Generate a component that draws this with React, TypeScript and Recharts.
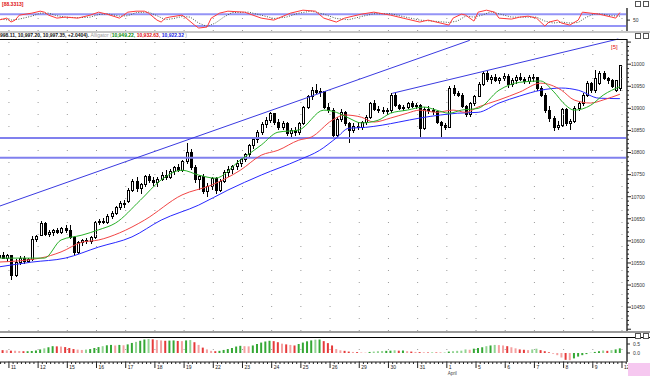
import React from 'react';
import { ComposedChart, Bar, Line, XAxis, YAxis, ReferenceLine, Cell } from 'recharts';

// DJIA hourly bars, 10 Mar - 9 Apr 2010: [open, high, low, close]
const candles: number[][] = [
  [10562, 10572, 10555, 10568], [10568, 10575, 10558, 10560], [10560, 10570, 10552, 10567],
  // Mar 11
  [10566, 10568, 10511, 10522], [10522, 10560, 10518, 10552], [10552, 10566, 10545, 10560], [10560, 10565, 10548, 10553],
  [10553, 10562, 10550, 10558], [10558, 10610, 10555, 10602], [10602, 10614, 10598, 10611],
  // Mar 12
  [10612, 10646, 10610, 10640], [10640, 10643, 10612, 10615], [10615, 10625, 10608, 10618], [10618, 10628, 10612, 10624],
  [10624, 10630, 10615, 10620], [10620, 10632, 10616, 10628], [10628, 10635, 10618, 10624],
  // Mar 15
  [10624, 10636, 10605, 10608], [10608, 10612, 10568, 10574], [10574, 10600, 10570, 10596], [10596, 10604, 10588, 10600],
  [10600, 10606, 10592, 10598], [10598, 10612, 10594, 10608], [10608, 10645, 10605, 10642],
  // Mar 16
  [10642, 10650, 10635, 10645], [10645, 10652, 10638, 10641], [10641, 10660, 10638, 10656], [10656, 10668, 10650, 10662],
  [10662, 10680, 10658, 10676], [10676, 10690, 10670, 10684], [10684, 10692, 10675, 10685],
  // Mar 17
  [10690, 10720, 10685, 10715], [10715, 10740, 10710, 10735], [10735, 10745, 10710, 10718], [10718, 10732, 10705, 10728],
  [10728, 10750, 10722, 10745], [10745, 10752, 10730, 10736], [10736, 10745, 10725, 10733],
  // Mar 18
  [10733, 10745, 10722, 10740], [10740, 10755, 10735, 10748], [10748, 10760, 10738, 10744], [10744, 10762, 10740, 10758],
  [10758, 10770, 10750, 10765], [10765, 10775, 10755, 10760], [10760, 10782, 10756, 10779],
  // Mar 19
  [10779, 10821, 10775, 10800], [10800, 10808, 10760, 10765], [10765, 10772, 10730, 10738], [10738, 10750, 10715, 10745],
  [10745, 10752, 10705, 10712], [10712, 10730, 10700, 10722], [10722, 10745, 10715, 10741],
  // Mar 22
  [10741, 10745, 10705, 10715], [10715, 10740, 10710, 10735], [10735, 10760, 10730, 10755], [10755, 10770, 10745, 10762],
  [10762, 10772, 10752, 10768], [10768, 10782, 10760, 10775], [10775, 10790, 10768, 10785],
  // Mar 23
  [10785, 10800, 10778, 10795], [10795, 10820, 10790, 10815], [10815, 10835, 10808, 10830], [10830, 10850, 10822, 10845],
  [10845, 10870, 10840, 10864], [10864, 10880, 10855, 10872], [10872, 10892, 10866, 10888],
  // Mar 24
  [10888, 10890, 10862, 10868], [10868, 10875, 10850, 10856], [10856, 10872, 10850, 10866], [10866, 10870, 10838, 10842],
  [10842, 10855, 10835, 10850], [10850, 10858, 10838, 10845], [10845, 10870, 10840, 10866],
  // Mar 25
  [10866, 10905, 10862, 10902], [10902, 10930, 10898, 10926], [10926, 10948, 10920, 10940], [10940, 10955, 10932, 10935],
  [10935, 10946, 10925, 10938], [10938, 10940, 10898, 10902], [10902, 10912, 10890, 10896],
  // Mar 26
  [10896, 10900, 10832, 10838], [10838, 10880, 10835, 10875], [10875, 10898, 10870, 10891], [10891, 10895, 10860, 10865],
  [10865, 10870, 10821, 10851], [10851, 10866, 10845, 10860], [10860, 10868, 10850, 10857],
  // Mar 29
  [10857, 10872, 10850, 10868], [10868, 10885, 10862, 10880], [10880, 10915, 10876, 10912], [10912, 10918, 10895, 10898],
  [10898, 10905, 10890, 10895], [10895, 10902, 10888, 10892], [10892, 10900, 10886, 10895],
  // Mar 30
  [10895, 10935, 10890, 10930], [10930, 10936, 10902, 10906], [10906, 10910, 10896, 10900], [10900, 10908, 10895, 10902],
  [10902, 10915, 10898, 10911], [10911, 10916, 10900, 10904], [10904, 10912, 10898, 10907],
  // Mar 31
  [10907, 10910, 10835, 10855], [10855, 10902, 10850, 10898], [10898, 10905, 10888, 10895], [10895, 10900, 10885, 10893],
  [10893, 10896, 10865, 10868], [10868, 10872, 10835, 10862], [10862, 10866, 10852, 10857],
  // Apr 1
  [10857, 10950, 10855, 10945], [10945, 10952, 10928, 10934], [10934, 10940, 10925, 10930], [10930, 10935, 10900, 10904],
  [10904, 10908, 10880, 10885], [10885, 10915, 10880, 10910], [10910, 10930, 10905, 10927],
  // Apr 5
  [10927, 10960, 10925, 10955], [10955, 10985, 10950, 10978], [10978, 10985, 10960, 10965], [10965, 10975, 10955, 10970],
  [10970, 10978, 10960, 10962], [10962, 10972, 10955, 10968], [10968, 10980, 10962, 10973],
  // Apr 6
  [10973, 10978, 10945, 10955], [10955, 10968, 10948, 10962], [10962, 10975, 10955, 10970], [10970, 10980, 10962, 10966],
  [10966, 10972, 10955, 10960], [10960, 10975, 10955, 10970], [10970, 10978, 10960, 10969],
  // Apr 7
  [10969, 10972, 10940, 10945], [10945, 10950, 10925, 10930], [10930, 10935, 10890, 10895], [10895, 10905, 10870, 10878],
  [10878, 10882, 10848, 10856], [10856, 10872, 10850, 10862], [10862, 10900, 10858, 10897],
  // Apr 8
  [10897, 10900, 10860, 10866], [10866, 10875, 10852, 10870], [10870, 10905, 10866, 10900], [10900, 10915, 10895, 10910],
  [10910, 10935, 10905, 10930], [10930, 10962, 10925, 10957], [10957, 10960, 10935, 10940],
  // Apr 9
  [10941, 10986, 10935, 10968], [10957, 10985, 10952, 10980], [10980, 10985, 10965, 10968], [10968, 10972, 10955, 10962],
  [10962, 10966, 10945, 10950], [10941, 10965, 10938, 10962], [10946, 10998, 10940, 10997],
];

const dayLabels = ['11', '12', '15', '16', '17', '18', '19', '22', '23', '24', '25', '26', '29', '30', '31', '1', '5', '6', '7', '8', '9', '12'];
const monthLabels: Record<number, string> = { 15: 'April' };

// Alligator lines: [bar, price]
const jawPts = [
  [0, 10541], [8, 10552], [16, 10561], [24, 10586], [32, 10609], [39, 10647], [48, 10681], [55, 10715], [63, 10749],
  [72, 10783], [77, 10805], [81, 10833], [84, 10855], [88, 10857], [92, 10862], [96, 10869], [101, 10878], [106, 10885],
  [110, 10889], [115, 10891], [120, 10912], [125, 10928], [130, 10941], [135, 10946], [139, 10941], [144, 10923], [149, 10922],
];
const teethPts = [
  [0, 10552], [10, 10561], [15, 10575], [20, 10597], [24, 10602], [29, 10618], [35, 10647], [44, 10704], [51, 10726],
  [58, 10760], [63, 10794], [67, 10805], [72, 10828], [75, 10835], [80, 10873], [83, 10885], [87, 10880], [90, 10869],
  [94, 10878], [98, 10889], [101, 10896], [105, 10891], [109, 10896], [112, 10891], [115, 10903], [120, 10919],
  [125, 10937], [130, 10957], [135, 10941], [138, 10919], [142, 10912], [145, 10919], [149, 10932],
];
const lipsPts = [
  [0, 10561], [11, 10561], [15, 10602], [20, 10613], [24, 10625], [28, 10640], [34, 10692], [39, 10738], [44, 10760],
  [48, 10749], [52, 10742], [58, 10783], [63, 10817], [67, 10846], [72, 10851], [78, 10896], [81, 10891], [84, 10878],
  [87, 10867], [91, 10873], [94, 10889], [98, 10896], [102, 10903], [105, 10896], [108, 10889], [111, 10896],
  [115, 10900], [120, 10941], [125, 10959], [130, 10962], [133, 10939], [136, 10907], [138, 10896], [142, 10907],
  [145, 10930], [149, 10949],
];

// Stochastic %K and %D: [bar, value]
const stochK = [
  [0, 50], [2, 60], [3, 40], [4, 50], [5, 75], [8, 85], [10, 95], [11, 90], [12, 75], [14, 60], [16, 65], [19, 60],
  [22, 75], [24, 90], [26, 80], [29, 60], [30, 75], [31, 90], [33, 95], [35, 95], [36, 85], [38, 50], [39, 40], [40, 60],
  [41, 65], [44, 75], [45, 60], [47, 25], [48, 10], [50, 15], [51, 60], [53, 85], [55, 95], [59, 90], [63, 60], [66, 50],
  [70, 85], [73, 100], [76, 95], [78, 60], [81, 40], [83, 60], [87, 80], [90, 90], [94, 75], [97, 60], [101, 40],
  [103, 50], [108, 25], [109, 60], [111, 80], [112, 75], [114, 45], [115, 90], [117, 100], [119, 90], [120, 60],
  [123, 55], [125, 65], [127, 70], [129, 60], [131, 20], [132, 40], [134, 50], [135, 35], [137, 25], [139, 50],
  [140, 90], [142, 85], [144, 80], [145, 75], [147, 65], [148, 60], [149, 88],
];
const stochD = [
  [0, 55], [3, 50], [5, 55], [8, 70], [10, 85], [12, 85], [14, 72], [16, 65], [19, 62], [22, 65], [24, 78], [26, 82],
  [29, 70], [31, 72], [33, 88], [36, 90], [38, 72], [40, 52], [42, 58], [44, 68], [46, 65], [48, 35], [50, 18], [52, 35],
  [54, 65], [56, 88], [60, 90], [63, 75], [66, 58], [69, 65], [72, 85], [75, 95], [78, 80], [81, 58], [84, 52], [87, 68],
  [90, 82], [94, 82], [97, 68], [101, 50], [104, 45], [108, 38], [110, 45], [112, 70], [114, 65], [116, 75], [118, 92],
  [120, 82], [123, 65], [126, 65], [129, 65], [131, 45], [133, 35], [135, 40], [137, 35], [139, 38], [141, 65],
  [143, 82], [145, 80], [147, 72], [149, 70],
];

// Awesome oscillator, one value per bar
const aoValues = [
  0.17, 0.16, 0.15, 0.13, 0.12, 0.11, 0.1, 0.1, 0.11, 0.14, 0.2, 0.26, 0.32, 0.38, 0.37, 0.36, 0.33, 0.28, 0.22, 0.19,
  0.17, 0.19, 0.22, 0.28, 0.33, 0.38, 0.43, 0.45, 0.42, 0.45, 0.43, 0.48, 0.56, 0.62, 0.68, 0.75, 0.78, 0.76, 0.72, 0.7,
  0.68, 0.69, 0.7, 0.67, 0.66, 0.7, 0.72, 0.6, 0.45, 0.3, 0.2, 0.12, 0.1, 0.12, 0.17, 0.22, 0.28, 0.36, 0.4, 0.38,
  0.37, 0.42, 0.5, 0.58, 0.64, 0.68, 0.66, 0.6, 0.52, 0.48, 0.45, 0.42, 0.5, 0.58, 0.65, 0.7, 0.74, 0.75, 0.66, 0.55,
  0.42, 0.22, 0.15, 0.12, 0.08, 0.06, 0.05, 0.03, 0.02, 0.06, 0.08, 0.1, 0.11, 0.12, 0.13, 0.15, 0.13, 0.14, 0.1, 0.08,
  0.06, 0.05, 0.04, 0.03, 0.04, 0.03, 0.02, 0.03, 0.08, 0.1, 0.12, 0.13, 0.2, 0.18, 0.24, 0.28, 0.32, 0.38, 0.42, 0.45,
  0.44, 0.42, 0.38, 0.32, 0.26, 0.2, 0.18, 0.16, 0.2, 0.24, 0.16, 0.1, 0.04, -0.02, -0.12, -0.25, -0.38, -0.4, -0.3,
  -0.2, -0.12, -0.06, 0.02, 0.06, 0.1, 0.14, 0.12, 0.16, 0.2, 0.26,
];

const priceLabels = [11000, 10950, 10900, 10850, 10800, 10750, 10700, 10650, 10600, 10550, 10500, 10450];
const levelLines = [10833, 10788];
const trendLines = [
  [[0.36, 10679], [113, 11054]],
  [[94.4, 10934], [148.6, 11057]],
];
const stochLevels = [80, 20];

const W = 650;
const AXIS_W = 23;
const PLOT_R = W - AXIS_W;
const X_DOMAIN: [number, number] = [0.36, 150.7];
const dayTicks = dayLabels.map((_, k) => 2.5 + 7 * k);
const barTicks = Array.from({ length: 151 }, (_, n) => n + 0.5);
const minorPriceTicks = Array.from({ length: 66 }, (_, n) => 10400 + n * 10);

const rows: any[] = candles.map((c, i) => ({
  i, o: c[0], h: c[1], l: c[2], c: c[3], range: [c[2], c[1]], ao: aoValues[i],
}));
const put = (pts: number[][], key: string) => pts.forEach(([i, v]) => { rows[i][key] = v; });
put(jawPts, 'jaw');
put(teethPts, 'teeth');
put(lipsPts, 'lips');
put(stochK, 'k');
put(stochD, 'd');

function Candle(props: any) {
  const { x, y, width, height, payload } = props;
  if (x == null || !payload) return null;
  const top = Math.min(y, y + height);
  const hh = Math.abs(height);
  const span = payload.h - payload.l || 1;
  const py = (v: number) => top + ((payload.h - v) / span) * hh;
  const up = payload.c >= payload.o;
  const bTop = py(Math.max(payload.o, payload.c));
  const bBot = py(Math.min(payload.o, payload.c));
  const cx = Math.round(x + width / 2) + 0.5;
  return (
    <g shapeRendering="crispEdges">
      <line x1={cx} x2={cx} y1={top} y2={top + hh} stroke="#000" />
      <rect x={cx - 1} y={bTop} width={2} height={Math.max(bBot - bTop, 1)} fill={up ? '#fff' : '#000'} stroke="#000" />
    </g>
  );
}

function PriceTick(props: any) {
  const { y, payload } = props;
  const v = payload.value;
  const major = v % 50 === 0;
  return (
    <g>
      <line x1={PLOT_R} x2={PLOT_R + (major ? 4 : 2)} y1={y} y2={y} stroke="#222" />
      {major && priceLabels.includes(v) && (
        <text x={PLOT_R + 4} y={y + 1.8} fontSize={5} fill="#333">{v}</text>
      )}
    </g>
  );
}

function SmallTick(props: any) {
  const { y, payload } = props;
  const v = payload.value;
  return (
    <g>
      <line x1={PLOT_R} x2={PLOT_R + 3} y1={y} y2={y} stroke="#222" />
      <text x={PLOT_R + 6} y={y + 1.8} fontSize={5} fill="#333">{Number(v).toFixed(v % 1 === 0 && v !== 0 ? 0 : 1)}</text>
    </g>
  );
}

function DateTick(props: any) {
  const { x, payload } = props;
  const k = (payload.value - 2.5) / 7;
  const isDay = Number.isInteger(k) && k >= 0 && k < dayLabels.length;
  const ay = 32;
  return (
    <g>
      <line x1={x} x2={x} y1={ay} y2={ay + (isDay ? 6 : 2)} stroke="#222" />
      {isDay && (
        <text x={x + 2} y={ay + 7} fontSize={5} fill="#222">{dayLabels[k]}</text>
      )}
      {isDay && monthLabels[k] && (
        <text x={x + 1} y={ay + 13} fontSize={4.5} fill="#444">{monthLabels[k]}</text>
      )}
    </g>
  );
}

function aoColor(i: number) {
  const rising = i === 0 ? false : aoValues[i] >= aoValues[i - 1];
  const bull = candles[i][3] >= candles[i][0];
  if (rising) return bull ? '#35a835' : '#92d492';
  return bull ? '#f4a0a0' : '#e63a3a';
}

const dayGrid = dayTicks.map((t) => (
  <ReferenceLine key={'g' + t} x={t} stroke="#9a9a9a" strokeDasharray="1 11" ifOverflow="hidden" />
));

export default function App() {
  return (
    <div style={{ position: 'absolute', left: 0, top: 0, width: W, height: 376, background: '#fff', fontFamily: '"Liberation Sans", Arial, sans-serif', overflow: 'hidden' }}>
      {/* stochastic */}
      <div style={{ position: 'absolute', left: 0, top: 0 }}>
        <ComposedChart width={W} height={40} data={rows} margin={{ top: 8, right: 0, bottom: 9, left: 0 }}>
          <XAxis type="number" dataKey="i" domain={X_DOMAIN} allowDataOverflow hide />
          <YAxis type="number" orientation="right" width={AXIS_W} domain={[-5, 111]} allowDataOverflow ticks={[50]}
            interval={0} tick={<SmallTick />} tickLine={false} axisLine={{ stroke: '#666', strokeWidth: 2 }} />
          {dayGrid}
          {stochLevels.map((v) => (
            <ReferenceLine key={v} y={v} stroke="#9494f6" strokeWidth={2} />
          ))}
          <Line dataKey="d" stroke="#4a5a4a" strokeWidth={1} strokeDasharray="1 1.5" dot={false} connectNulls isAnimationActive={false} />
          <Line dataKey="k" stroke="#ff3b3b" strokeWidth={1} dot={false} connectNulls isAnimationActive={false} />
        </ComposedChart>
      </div>

      {/* price */}
      <div style={{ position: 'absolute', left: 0, top: 0 }}>
        <ComposedChart width={W} height={340} data={rows} margin={{ top: 39, right: 0, bottom: 9, left: 0 }}>
          <XAxis type="number" dataKey="i" domain={X_DOMAIN} allowDataOverflow hide />
          <YAxis type="number" orientation="right" width={AXIS_W} domain={[10396, 11057]} allowDataOverflow
            ticks={minorPriceTicks} interval={0} tick={<PriceTick />} tickLine={false}
            axisLine={{ stroke: '#666', strokeWidth: 2 }} />
          {dayGrid}
          {levelLines.map((v) => (
            <ReferenceLine key={v} y={v} stroke="#8080ee" strokeWidth={2} />
          ))}
          {trendLines.map((s, n) => (
            <ReferenceLine key={'t' + n} segment={[{ x: s[0][0], y: s[0][1] }, { x: s[1][0], y: s[1][1] }]}
              stroke="#3a3ae0" strokeWidth={1} ifOverflow="visible" />
          ))}
          <Bar dataKey="range" barSize={3} shape={Candle} isAnimationActive={false} />
          <Line dataKey="jaw" type="monotone" stroke="#2828ff" strokeWidth={1} dot={false} connectNulls isAnimationActive={false} />
          <Line dataKey="teeth" type="monotone" stroke="#f24545" strokeWidth={1} dot={false} connectNulls isAnimationActive={false} />
          <Line dataKey="lips" type="monotone" stroke="#28b028" strokeWidth={1} dot={false} connectNulls isAnimationActive={false} />
        </ComposedChart>
      </div>

      {/* awesome oscillator */}
      <div style={{ position: 'absolute', left: 0, top: 330 }}>
        <ComposedChart width={W} height={46} data={rows} margin={{ top: 7, right: 0, bottom: 0, left: 0 }}>
          <XAxis type="number" dataKey="i" domain={X_DOMAIN} allowDataOverflow ticks={barTicks} interval={0}
            tick={<DateTick />} tickLine={false} height={14} axisLine={{ stroke: '#222' }} />
          <YAxis type="number" orientation="right" width={AXIS_W} domain={[-0.5, 0.89]} allowDataOverflow
            ticks={[0.5, 0]} interval={0} tick={<SmallTick />} tickLine={false} axisLine={{ stroke: '#666', strokeWidth: 2 }} />
          {dayGrid}
          <Bar dataKey="ao" barSize={2} isAnimationActive={false}>
            {rows.map((r) => (
              <Cell key={r.i} fill={aoColor(r.i)} />
            ))}
          </Bar>
        </ComposedChart>
      </div>

      {/* frame, captions */}
      <svg width={W} height={376} style={{ position: 'absolute', left: 0, top: 0, pointerEvents: 'none' }}>
        <line x1={0} x2={W} y1={32} y2={32} stroke="#8c8c8c" />
        <line x1={0} x2={PLOT_R} y1={39.5} y2={39.5} stroke="#000" />
        <line x1={0} x2={W} y1={332} y2={332} stroke="#9a9a9a" strokeWidth={2} />
        <line x1={0} x2={W} y1={337.5} y2={337.5} stroke="#000" />
        <text x={2} y={6} fontSize={5} fontWeight="bold" fill="#e01010">[88.3313]</text>
        <text x={0} y={37} fontSize={5} fontWeight="bold">
          <tspan fill="#111">998.11, 10,997.20, 10,997.35, +2.0404). </tspan>
          <tspan fill="#999" fontWeight="normal">Alligator (</tspan>
          <tspan fill="#0a8a0a">10,949.22, </tspan>
          <tspan fill="#e01010">10,932.63, </tspan>
          <tspan fill="#1a1ae0">10,922.32</tspan>
          <tspan fill="#999" fontWeight="normal"> )</tspan>
        </text>
        <text x={611} y={49} fontSize={6} fill="#e01010">[5]</text>
        {[1, 33, 333].map((yy) => (
          <g key={yy}>
            <rect x={635.5} y={yy + 0.5} width={5} height={5} fill="#fff" stroke="#555" />
            <rect x={643.5} y={yy + 0.5} width={5} height={5} fill="#fff" stroke="#555" />
          </g>
        ))}
        <rect x={628} y={363} width={22} height={13} fill="#f6c8f0" />
      </svg>
    </div>
  );
}
